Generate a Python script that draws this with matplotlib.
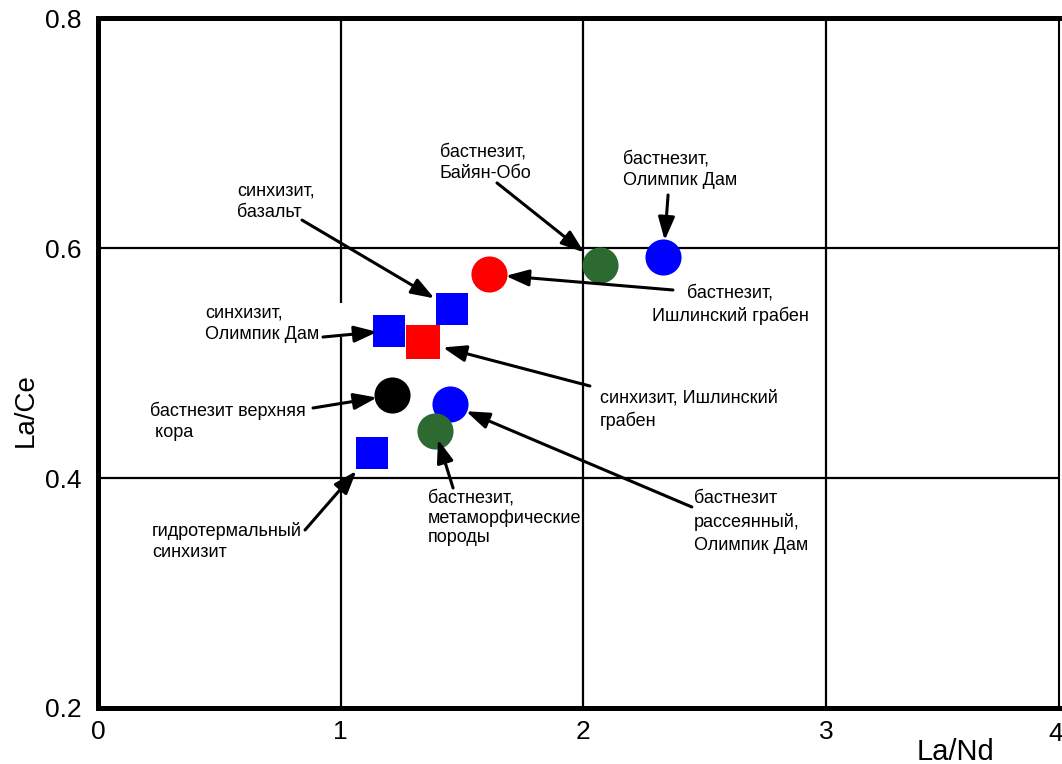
import matplotlib
matplotlib.use("Agg")
import matplotlib.pyplot as plt
from matplotlib.patches import Rectangle

plt.rcParams['font.family'] = ['Liberation Sans', 'DejaVu Sans']

# Points in drawing order (later entries sit on top)
labels = [
    "синхизит,\nбазальт",
    "синхизит,\nОлимпик Дам",
    "гидротермальный\nсинхизит",
    "синхизит, Ишлинский\nграбен",
    "бастнезит,\nИшлинский грабен",
    "бастнезит,\nБайян-Обо",
    "бастнезит,\nОлимпик Дам",
    "бастнезит верхняя\n кора",
    "бастнезит\nрассеянный,\nОлимпик Дам",
    "бастнезит,\nметаморфические\nпороды",
]
la_nd = [1.46, 1.20, 1.13, 1.34, 1.61, 2.07, 2.33, 1.21, 1.45, 1.39]
la_ce = [0.547, 0.528, 0.422, 0.518, 0.577, 0.585, 0.592, 0.472, 0.464, 0.441]
colors = ['#0000ff', '#0000ff', '#0000ff', '#ff0000', '#ff0000',
          '#2d6a31', '#0000ff', '#000000', '#0000ff', '#2d6a31']
shapes = ['s', 's', 's', 's', 'o', 'o', 'o', 'o', 'o', 'o']

x_ticks = [0, 1, 2, 3]
x_last_tick = '4'
y_ticks = [0.2, 0.4, 0.6, 0.8]

# Label layout: text anchor (data coords), alignment, arrow tail, arrow shrink (pt)
text_pos = [(0.573, 0.657), (0.441, 0.5505), (0.2225, 0.3615), (2.068, 0.477),
            (2.604, 0.5684), (1.409, 0.691), (2.163, 0.685), (0.214, 0.4667),
            (2.456, 0.3893), (1.36, 0.3897)]
text_ha = ['left', 'left', 'left', 'left', 'center', 'left', 'left', 'left',
           'left', 'left']
text_ls = [1.38, 1.3, 1.3, 1.38, 1.38, 1.38, 1.38, 1.3, 1.42, 1.18]
arrow_tail = [(0.8405, 0.6243), (0.927, 0.5226), (0.853, 0.3548), (2.027, 0.480),
              (2.369, 0.5635), (1.644, 0.6566), (2.349, 0.6461), (0.886, 0.4609),
              (2.447, 0.3748), (1.463, 0.3913)]
arrow_shrink = [15, 8.6, 17.4, 14.6, 12.2, 14.8, 12.2, 10.7, 12.6, 6.5]

fig = plt.figure(figsize=(10.62, 7.64), dpi=100)
ax = fig.add_axes([0.0923, 0.0733, 0.9049, 0.9031])
ax.set_xticks(x_ticks)
ax.set_yticks(y_ticks)
ax.set_yticklabels(['0.2', '0.4', '0.6', '0.8'])
ax.set_xlim(0, 3.96)
ax.set_ylim(0.2, 0.8)
ax.tick_params(length=0, labelsize=19)
ax.tick_params(axis='x', pad=9)
ax.tick_params(axis='y', pad=12)
ax.grid(True, color='black', lw=1.6, zorder=1)
ax.set_axisbelow(True)

for side in ['left', 'bottom', 'top']:
    ax.spines[side].set_linewidth(3.6)
ax.spines['right'].set_linewidth(1.5)

# last x tick sits at the right frame edge
ax.text(3.945, -0.021, x_last_tick, transform=ax.get_xaxis_transform(),
        ha='center', va='top', fontsize=19, clip_on=False)

ax.set_xlabel('La/Nd', fontsize=21)
ax.xaxis.set_label_coords(0.892, -0.043)
ax.set_ylabel('La/Ce', fontsize=20)
ax.yaxis.set_label_coords(-0.062, 0.432)

# break in the x=1 grid line beside the label
ax.add_patch(Rectangle((0.97, 0.5226), 0.06, 0.0296, facecolor='white',
                       edgecolor='none', zorder=1.5))

sizes = {'s': 23, 'o': 26}
for x, y, c, m in zip(la_nd, la_ce, colors, shapes):
    ms = sizes[m] + (2 if (m == 's' and c == '#ff0000') else 0)
    ax.plot([x], [y], marker=m, ms=ms, color=c, mec=c, mew=0, ls='none',
            zorder=3)

for lab, (tx, ty), ha, ls, tail, shr, x, y in zip(labels, text_pos, text_ha,
                                                  text_ls, arrow_tail,
                                                  arrow_shrink, la_nd, la_ce):
    ax.text(tx, ty, lab, ha=ha, va='top', fontsize=13, linespacing=ls,
            zorder=5)
    ax.annotate('', xy=(x, y), xytext=tail,
                arrowprops=dict(arrowstyle='-|>,head_length=0.7,head_width=0.25',
                                mutation_scale=20, lw=2.2, color='black',
                                shrinkA=0, shrinkB=shr),
                zorder=4)

fig.savefig('out.png', dpi=100)
